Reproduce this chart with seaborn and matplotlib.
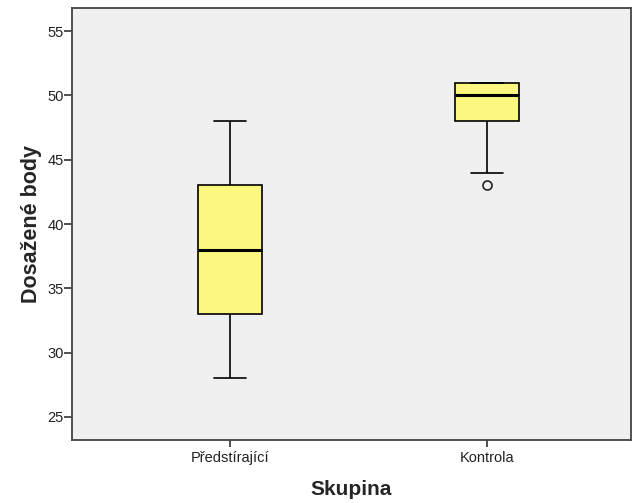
import matplotlib
matplotlib.use("Agg")
import matplotlib.pyplot as plt
import seaborn as sns
import pandas as pd

# values (chosen so the box statistics match)
groups = ["Předstírající", "Kontrola"]
predstirajici = [28, 33, 38, 43, 48]
kontrola = [43, 44, 48, 48, 50, 51, 51, 51, 51]

df = pd.DataFrame({
    "Skupina": [groups[0]] * len(predstirajici) + [groups[1]] * len(kontrola),
    "Dosažené body": predstirajici + kontrola,
})

sns.set_style("ticks")
plt.rcParams["font.family"] = ["Liberation Sans", "DejaVu Sans"]

fig = plt.figure(figsize=(6.33, 5.03), dpi=100)
ax = fig.add_axes([0.1137, 0.1252, 0.8831, 0.8588])
ax.set_facecolor("#F0F0F0")

sns.boxplot(data=df, x="Skupina", y="Dosažené body", order=groups, ax=ax,
            color="#FCF77F", width=0.25, linecolor="black", linewidth=1.2,
            whis=1.5, saturation=1,
            medianprops={"linewidth": 2.2, "color": "black"},
            flierprops={"marker": "o", "markersize": 6.5, "markerfacecolor": "none",
                        "markeredgecolor": "#222222", "markeredgewidth": 1.2})

ax.set_ylim(23.2, 56.8)
ax.set_xlim(-0.615, 1.56)
ax.set_yticks([25, 30, 35, 40, 45, 50, 55])
ax.tick_params(axis="y", labelsize=10.5, length=6, width=1.2, colors="#333333",
               labelcolor="#222222", pad=0)
ax.tick_params(axis="x", labelsize=10.5, length=5, width=1.2, colors="#333333",
               labelcolor="#222222", pad=3)
for s in ax.spines.values():
    s.set_visible(True)
    s.set_color("#444444")
    s.set_linewidth(1.3)

ax.set_xlabel("Skupina", fontsize=15, fontweight="bold", labelpad=11)
ax.set_ylabel("Dosažené body", fontsize=15.5, fontweight="bold", labelpad=4)

fig.savefig("out.png", dpi=100)
